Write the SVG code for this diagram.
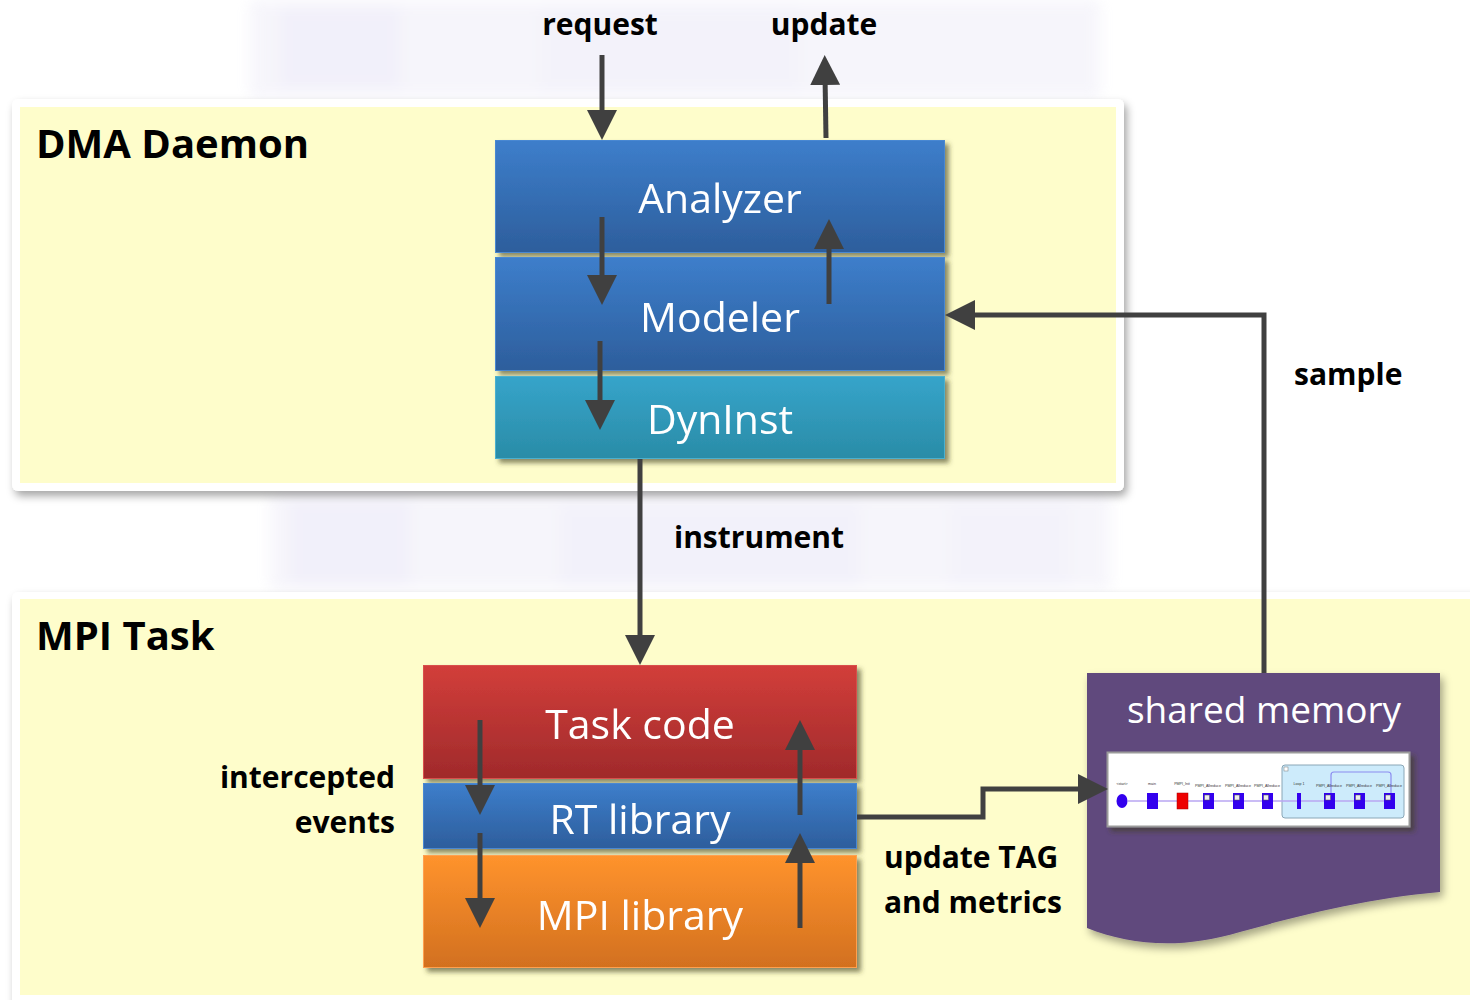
<svg xmlns="http://www.w3.org/2000/svg" width="1470" height="1000" viewBox="0 0 1470 1000">
  <style>
    .label { font-family: "Open Sans", "Noto Sans", "DejaVu Sans", sans-serif; font-weight: 700; fill: #000; }
    .title { font-family: "Open Sans", "Noto Sans", "DejaVu Sans", sans-serif; font-weight: 700; font-size: 40px; fill: #000; }
    .node-text { font-family: "Open Sans", "Noto Sans", "DejaVu Sans", sans-serif; font-size: 41px; fill: #fff; text-anchor: middle; }
    .conn { stroke: #404040; stroke-width: 5; fill: none; }
    .arrow { marker-end: url(#head); }
    .tiny { font-family: "Liberation Sans", Arial, sans-serif; font-size: 3.6px; fill: #333; text-anchor: middle; }
  </style>
  <defs>
    <marker id="head" viewBox="0 0 30 30" refX="10" refY="15" markerWidth="30" markerHeight="30" markerUnits="userSpaceOnUse" orient="auto">
      <path d="M0,0 L30,15 L0,30 Z" fill="#404040"/>
    </marker>
    <filter id="panelShadow" x="-5%" y="-5%" width="112%" height="115%">
      <feDropShadow dx="3" dy="5" stdDeviation="4" flood-color="#000" flood-opacity="0.35"/>
    </filter>
    <filter id="boxShadow" x="-5%" y="-10%" width="115%" height="130%">
      <feDropShadow dx="4" dy="4" stdDeviation="2.5" flood-color="#3A3A20" flood-opacity="0.6"/>
    </filter>
    <filter id="haze" x="-10%" y="-30%" width="120%" height="160%">
      <feGaussianBlur stdDeviation="7"/>
    </filter>
    <linearGradient id="gBlue" x1="0" y1="0" x2="0" y2="1">
      <stop offset="0" stop-color="#3D7ECB"/>
      <stop offset="1" stop-color="#2D5E9C"/>
    </linearGradient>
    <linearGradient id="gTeal" x1="0" y1="0" x2="0" y2="1">
      <stop offset="0" stop-color="#36A4CA"/>
      <stop offset="1" stop-color="#2A8CA7"/>
    </linearGradient>
    <linearGradient id="gRed" x1="0" y1="0" x2="0" y2="1">
      <stop offset="0" stop-color="#D23E3A"/>
      <stop offset="1" stop-color="#A02A2B"/>
    </linearGradient>
    <linearGradient id="gOrange" x1="0" y1="0" x2="0" y2="1">
      <stop offset="0" stop-color="#FF932D"/>
      <stop offset="1" stop-color="#D2701F"/>
    </linearGradient>
  </defs>

  <rect width="1470" height="1000" fill="#fff"/>

  <!-- faded backdrop behind the panels -->
  <g filter="url(#haze)" opacity="0.45">
    <rect x="250" y="0" width="850" height="98" fill="#ECEAF7"/>
    <rect x="280" y="8" width="120" height="80" fill="#E2DFF4"/>
    <rect x="540" y="10" width="260" height="80" fill="#E6E4F6"/>
    <rect x="270" y="494" width="840" height="96" fill="#ECEAF7"/>
    <rect x="290" y="500" width="120" height="85" fill="#E2DFF4"/>
    <rect x="560" y="505" width="300" height="80" fill="#E4E2F5"/>
    <rect x="950" y="505" width="120" height="80" fill="#E6E4F6"/>
  </g>

  <!-- DMA Daemon panel -->
  <g id="dma-daemon">
    <rect x="12" y="99" width="1112" height="392" rx="6" fill="#fff" filter="url(#panelShadow)"/>
    <rect x="20" y="107" width="1096" height="376" fill="#FEFDCB"/>
    <text class="title" x="36" y="158">DMA Daemon</text>
  </g>

  <!-- MPI Task panel -->
  <g id="mpi-task">
    <rect x="12" y="592" width="1480" height="430" rx="6" fill="#fff" filter="url(#panelShadow)"/>
    <rect x="20" y="599" width="1460" height="396" fill="#FEFDCB"/>
    <text class="title" x="36" y="650">MPI Task</text>
  </g>

  <!-- daemon layers -->
  <g id="analyzer" filter="url(#boxShadow)">
    <rect x="495.5" y="140.5" width="449" height="112" fill="url(#gBlue)" stroke="#4A88D2" stroke-width="1"/>
    <text class="node-text" x="720" y="213">Analyzer</text>
  </g>
  <g id="modeler" filter="url(#boxShadow)">
    <rect x="495.5" y="257.5" width="449" height="113" fill="url(#gBlue)" stroke="#4A88D2" stroke-width="1"/>
    <text class="node-text" x="720" y="332">Modeler</text>
  </g>
  <g id="dyninst" filter="url(#boxShadow)">
    <rect x="495.5" y="376.5" width="449" height="82" fill="url(#gTeal)" stroke="#4BB0CF" stroke-width="1"/>
    <text class="node-text" x="720" y="434">DynInst</text>
  </g>

  <!-- task layers -->
  <g id="task-code" filter="url(#boxShadow)">
    <rect x="423.5" y="665.5" width="433" height="113" fill="url(#gRed)" stroke="#D9504B" stroke-width="1"/>
    <text class="node-text" x="640" y="739">Task code</text>
  </g>
  <g id="rt-library" filter="url(#boxShadow)">
    <rect x="423.5" y="783.5" width="433" height="65" fill="url(#gBlue)" stroke="#4A88D2" stroke-width="1"/>
    <text class="node-text" x="640" y="834">RT library</text>
  </g>
  <g id="mpi-library" filter="url(#boxShadow)">
    <rect x="423.5" y="855.5" width="433" height="112" fill="url(#gOrange)" stroke="#FFA050" stroke-width="1"/>
    <text class="node-text" x="640" y="930">MPI library</text>
  </g>

  <!-- shared memory document -->
  <g id="shared-memory">
    <path d="M1087,673 H1440 V892 C1370,898 1300,915 1240,932 C1180,950 1130,945 1087,928 Z" fill="#614A7D" filter="url(#panelShadow)"/>
    <text x="1264" y="723" font-family="'Open Sans', 'Noto Sans', sans-serif" font-size="37" fill="#fff" text-anchor="middle">shared memory</text>
    <!-- task graph snapshot -->
    <g filter="url(#boxShadow)">
      <rect x="1107.5" y="752.5" width="302" height="74" fill="#fff" stroke="#9A9A9A" stroke-width="2"/>
    </g>
    <rect x="1282" y="765" width="122" height="53" rx="3" fill="#CDEBFB" stroke="#8AA6B6" stroke-width="1"/>
    <rect x="1284" y="767" width="4" height="4" fill="#fff" stroke="#777" stroke-width="0.5"/>
    <path d="M1331,793 V775 Q1331,772 1334,772 H1388 Q1391,772 1391,775 V793" fill="none" stroke="#8C8CF0" stroke-width="1.2"/>
    <line x1="1128" y1="801" x2="1395" y2="801" stroke="#B9A6F2" stroke-width="1.5"/>
    <ellipse cx="1122" cy="801" rx="5.5" ry="7" fill="#3300EE"/>
    <rect x="1147" y="793" width="11" height="16" fill="#3300EE"/>
    <rect x="1177" y="793" width="11" height="16" fill="#EE0000" stroke="#A00" stroke-width="0.5"/>
    <g fill="#3300EE">
      <rect x="1203" y="793" width="11" height="16"/>
      <rect x="1233" y="793" width="11" height="16"/>
      <rect x="1262" y="793" width="11" height="16"/>
      <rect x="1297" y="793" width="4" height="16"/>
      <rect x="1324" y="793" width="11" height="16"/>
      <rect x="1354" y="793" width="11" height="16"/>
      <rect x="1384" y="793" width="11" height="16"/>
    </g>
    <g fill="#EEE" stroke="#555" stroke-width="0.5">
      <rect x="1204.5" y="795" width="5" height="5"/>
      <rect x="1234.5" y="795" width="5" height="5"/>
      <rect x="1263.5" y="795" width="5" height="5"/>
      <rect x="1325.5" y="795" width="5" height="5"/>
      <rect x="1355.5" y="795" width="5" height="5"/>
      <rect x="1385.5" y="795" width="5" height="5"/>
    </g>
    <text class="tiny" x="1122" y="785">&lt;start&gt;</text>
    <text class="tiny" x="1152" y="785">main</text>
    <text class="tiny" x="1182" y="785">PMPI_Init</text>
    <text class="tiny" x="1208" y="787">PMPI_Allreduce</text>
    <text class="tiny" x="1238" y="787">PMPI_Allreduce</text>
    <text class="tiny" x="1267" y="787">PMPI_Allreduce</text>
    <text class="tiny" x="1299" y="785">Loop 1</text>
    <text class="tiny" x="1329" y="787">PMPI_Allreduce</text>
    <text class="tiny" x="1359" y="787">PMPI_Allreduce</text>
    <text class="tiny" x="1389" y="787">PMPI_Allreduce</text>
  </g>

  <!-- connectors -->
  <g id="connectors">
    <line class="conn arrow" x1="602" y1="55" x2="602" y2="120"/>
    <line class="conn arrow" x1="826" y1="138" x2="825" y2="75"/>
    <line class="conn arrow" x1="602" y1="217" x2="602" y2="285"/>
    <line class="conn arrow" x1="829" y1="304" x2="829" y2="239"/>
    <line class="conn arrow" x1="600" y1="341" x2="600" y2="410"/>
    <line class="conn arrow" x1="640" y1="459" x2="640" y2="645"/>
    <polyline class="conn arrow" points="1264,673 1264,315 965,315"/>
    <line class="conn arrow" x1="480" y1="720" x2="480" y2="795"/>
    <line class="conn arrow" x1="480" y1="833" x2="480" y2="908"/>
    <line class="conn arrow" x1="800" y1="815" x2="800" y2="740"/>
    <line class="conn arrow" x1="800" y1="928" x2="800" y2="853"/>
    <polyline class="conn arrow" points="857,817 983,817 983,789 1088,789"/>
  </g>

  <!-- connector labels -->
  <g id="labels">
    <text class="label" x="600" y="35" font-size="30" text-anchor="middle">request</text>
    <text class="label" x="824" y="35" font-size="30" text-anchor="middle">update</text>
    <text class="label" x="674" y="548" font-size="30">instrument</text>
    <text class="label" x="1294" y="385" font-size="30">sample</text>
    <text class="label" x="395" y="788" font-size="30" text-anchor="end">intercepted</text>
    <text class="label" x="395" y="833" font-size="30" text-anchor="end">events</text>
    <text class="label" x="884" y="868" font-size="30">update TAG</text>
    <text class="label" x="884" y="913" font-size="30">and metrics</text>
  </g>
</svg>
